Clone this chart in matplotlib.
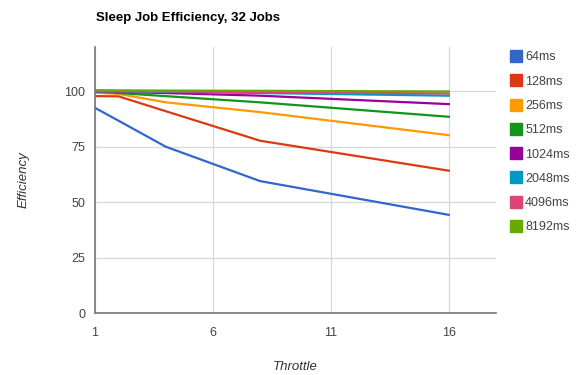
import matplotlib
matplotlib.use('Agg')
import matplotlib.pyplot as plt
from matplotlib.lines import Line2D

plt.rcParams['font.family'] = ['Liberation Sans', 'DejaVu Sans']

# data
throttle = [1, 2, 4, 8, 16]
labels = ['64ms', '128ms', '256ms', '512ms', '1024ms', '2048ms', '4096ms', '8192ms']
eff_64 = [92.5, 86.7, 75.0, 59.5, 44.3]
eff_128 = [97.8, 97.7, 91.0, 77.7, 64.2]
eff_256 = [99.3, 98.8, 95.0, 90.6, 80.2]
eff_512 = [99.8, 99.2, 97.8, 95.0, 88.5]
eff_1024 = [100.0, 99.7, 99.2, 98.0, 94.2]
eff_2048 = [100.0, 99.9, 99.7, 99.2, 98.0]
eff_4096 = [100.0, 100.0, 99.9, 99.6, 99.0]
eff_8192 = [100.5, 100.4, 100.3, 100.2, 99.9]
colors = ['#3366cc', '#dc3912', '#ff9900', '#109618', '#990099', '#0099c6', '#dd4477', '#66aa00']

series = [eff_64, eff_128, eff_256, eff_512, eff_1024, eff_2048, eff_4096, eff_8192]

fig = plt.figure(figsize=(5.76, 3.75), dpi=100)
ax = fig.add_axes([0.165, 0.165, 0.696, 0.71])

for vals, c in zip(series, colors):
    ax.plot(throttle, vals, color=c, lw=1.6, solid_joinstyle='round')

ax.set_xlim(1, 18)
ax.set_ylim(0, 120)
ax.set_xticks([1, 6, 11, 16])
ax.set_yticks([0, 25, 50, 75, 100])
ax.grid(True, color='#d8d8d8', lw=0.9)
ax.set_axisbelow(True)
ax.tick_params(length=0, labelsize=9, labelcolor='#444444')
ax.tick_params(axis='x', pad=10)
ax.tick_params(axis='y', pad=7)
for s in ['top', 'right']:
    ax.spines[s].set_visible(False)
for s in ['left', 'bottom']:
    ax.spines[s].set_color('#777777')
    ax.spines[s].set_linewidth(1.2)

ax.set_xlabel('Throttle', style='italic', fontsize=9.5, color='#333333', labelpad=16)
ax.set_ylabel('Efficiency', style='italic', fontsize=9.5, color='#333333', labelpad=25)

fig.text(0.167, 0.945, 'Sleep Job Efficiency, 32 Jobs', fontsize=9.5, fontweight='bold',
         family=['Liberation Sans Narrow', 'Liberation Sans', 'DejaVu Sans'])

handles = [Line2D([], [], marker='s', ls='none', color=c, markersize=9) for c in colors]
fig.legend(handles, labels, loc='upper left', bbox_to_anchor=(0.878, 0.876), frameon=False,
           fontsize=9, labelcolor='#444444', handlelength=0.8, handletextpad=0.35,
           labelspacing=0.98, borderaxespad=0)

fig.savefig('out.png', dpi=100)
